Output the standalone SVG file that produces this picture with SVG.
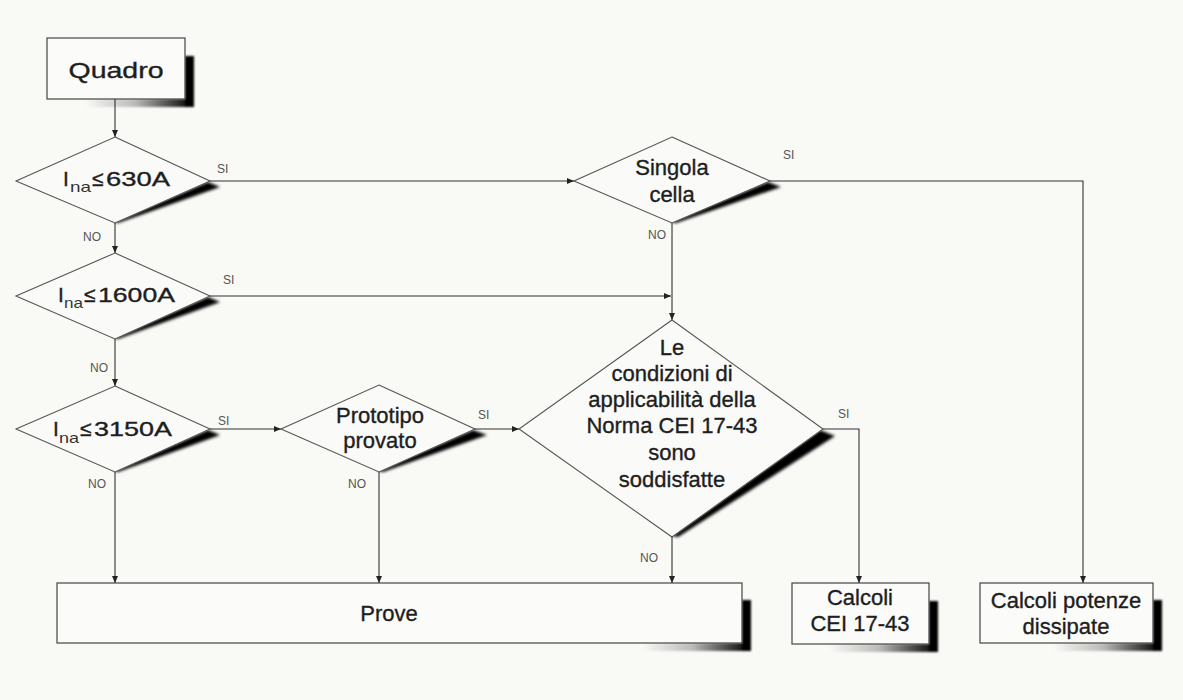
<svg xmlns="http://www.w3.org/2000/svg" width="1183" height="700" viewBox="0 0 1183 700">
<style>
  .bg{fill:#f9f9f6}
  .box{fill:#fbfbf9;stroke:#444;stroke-width:1.2}
  .dia{fill:#fafaf8;stroke:#555;stroke-width:1.1}
  .txt{font-family:"Liberation Sans",Arial,sans-serif;fill:#1e1e1e;stroke:#1e1e1e;stroke-width:0.35;font-size:22px;text-anchor:middle}
  .lt{font-family:"Liberation Sans",Arial,sans-serif;fill:#1e1e1e;stroke:#1e1e1e;stroke-width:0.35;font-size:21px}
  .sub{font-family:"Liberation Sans",Arial,sans-serif;fill:#333;font-size:15px}
  .lbl{font-family:"Liberation Sans",Arial,sans-serif;fill:#555;font-size:12px}
  .ln{fill:none;stroke:#333;stroke-width:1.1;marker-end:url(#arr)}
  .dsh{fill:#000;filter:url(#blur)}
  .bsh{filter:url(#blur1)}
</style>
<defs>
  <marker id="arr" markerUnits="userSpaceOnUse" markerWidth="7" markerHeight="6" refX="7" refY="3" orient="auto">
    <path d="M0,0 L7,3 L0,6 z" fill="#222"/>
  </marker>
  <filter id="blur" x="-20%" y="-20%" width="140%" height="140%"><feGaussianBlur stdDeviation="1.6"/></filter>
  <filter id="blur1" x="-20%" y="-20%" width="140%" height="140%"><feGaussianBlur stdDeviation="0.8"/></filter>
  <linearGradient id="sg" gradientUnits="userSpaceOnUse" x1="-100" y1="0" x2="0" y2="0">
    <stop offset="0" stop-color="#000" stop-opacity="0"/>
    <stop offset="0.5" stop-color="#000" stop-opacity="0.25"/>
    <stop offset="1" stop-color="#000" stop-opacity="0.9"/>
  </linearGradient>
  <g id="bshadow">
    <rect x="-100" y="0" width="100" height="8" fill="url(#sg)"/>
    <rect x="0" y="-43" width="9" height="51" fill="#000"/>
  </g>
</defs>
<rect class="bg" x="0" y="0" width="1183" height="700"/>

<g id="connectors">
  <path class="ln" d="M115,99 V137"/>
  <path class="ln" d="M115,223 V253"/>
  <path class="ln" d="M115,339 V386"/>
  <path class="ln" d="M115,472 V583"/>
  <path class="ln" d="M210,181 H574"/>
  <path class="ln" d="M210,296 H671"/>
  <path class="ln" d="M672,223 V320"/>
  <path class="ln" d="M210,429 H281"/>
  <path class="ln" d="M475,429 H519"/>
  <path class="ln" d="M379,472 V583"/>
  <path class="ln" d="M672,537 V583"/>
  <path class="ln" d="M823,429 H859 V583"/>
  <path class="ln" d="M770,181 H1083 V583"/>
  <text class="lbl" x="217" y="173">SI</text>
  <text class="lbl" x="223" y="284">SI</text>
  <text class="lbl" x="218" y="425">SI</text>
  <text class="lbl" x="478" y="419">SI</text>
  <text class="lbl" x="838" y="418">SI</text>
  <text class="lbl" x="783" y="159">SI</text>
  <text class="lbl" x="83" y="241">NO</text>
  <text class="lbl" x="90" y="372">NO</text>
  <text class="lbl" x="88" y="488">NO</text>
  <text class="lbl" x="348" y="488">NO</text>
  <text class="lbl" x="648" y="239">NO</text>
  <text class="lbl" x="640" y="562">NO</text>
</g>

<g id="quadro">
  <use href="#bshadow" class="bsh" transform="translate(185,99)"/>
  <rect class="box" x="47" y="38" width="138" height="61"/>
  <text class="txt" x="116" y="78" font-size="25" textLength="95" lengthAdjust="spacingAndGlyphs">Quadro</text>
</g>

<g id="d630">
  <polygon class="dsh" points="208,182 220,187 118,223 114,222"/>
  <polygon class="dia" points="115,137 210,181 115,223 16,181"/>
  <text class="lt" x="63" y="186">I</text>
  <text class="sub" x="70" y="192" textLength="21" lengthAdjust="spacingAndGlyphs">na</text>
  <text class="lt" x="92" y="186" font-size="21">≤</text>
  <text class="lt" x="106" y="186" textLength="64" lengthAdjust="spacingAndGlyphs">630A</text>
</g>

<g id="d1600">
  <polygon class="dsh" points="208,297 220,302 118,339 114,338"/>
  <polygon class="dia" points="115,253 210,296 115,339 16,296"/>
  <text class="lt" x="58" y="302" font-size="22">I</text>
  <text class="sub" x="64" y="308" textLength="19" lengthAdjust="spacingAndGlyphs">na</text>
  <text class="lt" x="84" y="302" font-size="21">≤</text>
  <text class="lt" x="98" y="302" font-size="22" textLength="77" lengthAdjust="spacingAndGlyphs">1600A</text>
</g>

<g id="d3150">
  <polygon class="dsh" points="208,430 220,435 118,472 114,471"/>
  <polygon class="dia" points="115,386 210,429 115,472 16,429"/>
  <text class="lt" x="53" y="436" font-size="22">I</text>
  <text class="sub" x="59" y="443" textLength="20" lengthAdjust="spacingAndGlyphs">na</text>
  <text class="lt" x="80" y="436" font-size="21">≤</text>
  <text class="lt" x="94" y="436" font-size="22" textLength="78" lengthAdjust="spacingAndGlyphs">3150A</text>
</g>

<g id="prototipo">
  <polygon class="dsh" points="473,430 487,435 383,472 378,471"/>
  <polygon class="dia" points="379,385 475,429 379,472 281,429"/>
  <text class="txt" x="380" y="423">Prototipo</text>
  <text class="txt" x="380" y="448">provato</text>
</g>

<g id="singola">
  <polygon class="dsh" points="768,182 781,187 676,223 671,222"/>
  <polygon class="dia" points="672,137 770,181 672,223 574,181"/>
  <text class="txt" x="672" y="175">Singola</text>
  <text class="txt" x="672" y="202">cella</text>
</g>

<g id="condizioni">
  <polygon class="dsh" points="820,430 835,436 678,537 672,536"/>
  <polygon class="dia" points="672,320 823,429 672,537 519,429"/>
  <text class="txt" x="672" y="355">Le</text>
  <text class="txt" x="672" y="381">condizioni di</text>
  <text class="txt" x="672" y="407">applicabilità della</text>
  <text class="txt" x="672" y="433">Norma CEI 17-43</text>
  <text class="txt" x="672" y="460">sono</text>
  <text class="txt" x="672" y="487">soddisfatte</text>
</g>

<g id="prove">
  <use href="#bshadow" class="bsh" transform="translate(742,643)"/>
  <rect class="box" x="57" y="583" width="685" height="60"/>
  <text class="txt" x="389" y="621">Prove</text>
</g>

<g id="calcoli-cei">
  <use href="#bshadow" class="bsh" transform="translate(929,644)"/>
  <rect class="box" x="792" y="583" width="137" height="61"/>
  <text class="txt" x="860" y="605">Calcoli</text>
  <text class="txt" x="860" y="631">CEI 17-43</text>
</g>

<g id="calcoli-potenze">
  <use href="#bshadow" class="bsh" transform="translate(1153,643)"/>
  <rect class="box" x="980" y="583" width="173" height="60"/>
  <text class="txt" x="1066" y="608">Calcoli potenze</text>
  <text class="txt" x="1066" y="634">dissipate</text>
</g>
</svg>
